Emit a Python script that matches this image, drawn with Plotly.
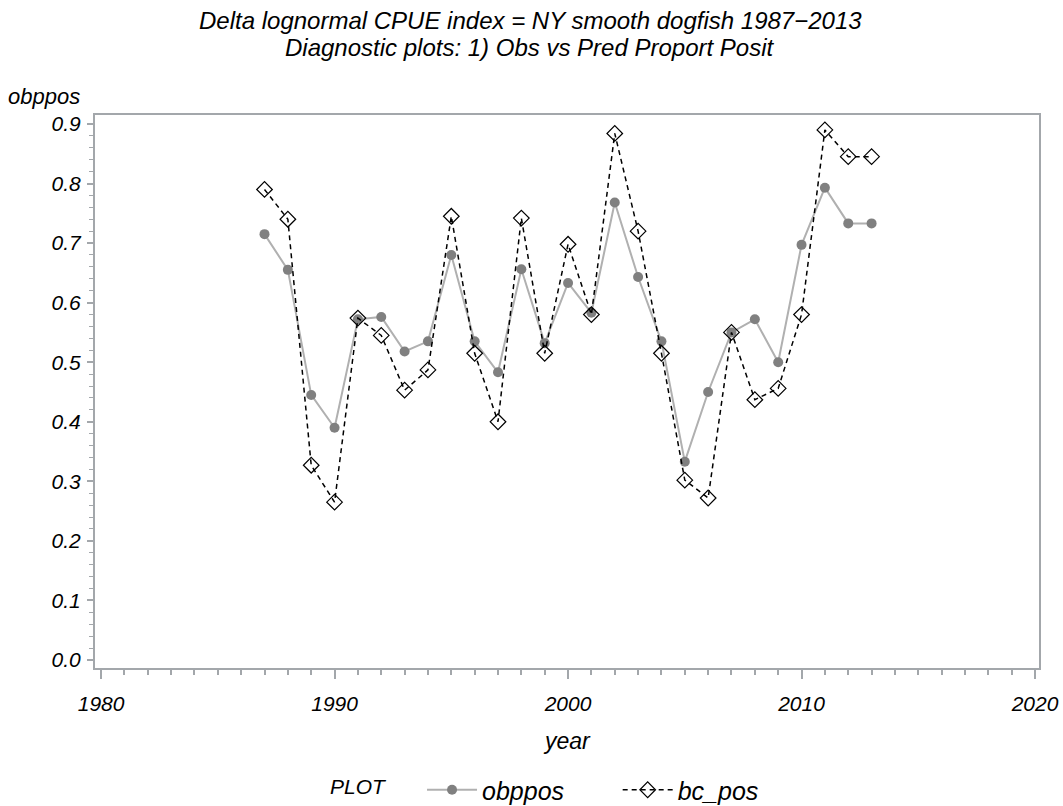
import plotly.graph_objects as go

years = list(range(1987, 2014))
obppos = [0.715, 0.655, 0.445, 0.390, 0.572, 0.576, 0.518, 0.535, 0.680, 0.535,
          0.483, 0.656, 0.532, 0.633, 0.583, 0.768, 0.643, 0.535, 0.333, 0.450,
          0.550, 0.572, 0.500, 0.697, 0.793, 0.733, 0.733]
bc_pos = [0.790, 0.740, 0.327, 0.265, 0.574, 0.545, 0.453, 0.487, 0.745, 0.515,
          0.400, 0.742, 0.515, 0.698, 0.580, 0.884, 0.720, 0.515, 0.302, 0.272,
          0.550, 0.437, 0.456, 0.580, 0.890, 0.845, 0.845]

title1 = "Delta lognormal CPUE index = NY smooth dogfish 1987\u22122013"
title2 = "Diagnostic plots: 1) Obs vs Pred Proport Posit"

FONT = "Liberation Sans"
frame = "#a3a7ab"
W, H = 1063, 806
ML, MR, MT, MB = 95, 24, 115, 138
plot_h = H - MT - MB
plot_w = W - ML - MR


def py(ypix):
    return (H - MB - ypix) / plot_h


def px(xpix):
    return (xpix - ML) / plot_w


fig = go.Figure()
fig.add_trace(go.Scatter(
    x=years, y=obppos, name="obppos" + "\u00a0" * 7, mode="lines+markers",
    line=dict(color="#b0b0b0", width=2),
    marker=dict(symbol="circle", size=10, color="#808080"),
))
fig.add_trace(go.Scatter(
    x=years, y=bc_pos, name="bc_pos", mode="lines+markers",
    line=dict(color="black", width=1.5, dash="5px,4px"),
    marker=dict(symbol="diamond-open", size=12, color="black", line=dict(width=1.2)),
))

fig.update_layout(
    width=W, height=H,
    paper_bgcolor="white", plot_bgcolor="white",
    margin=dict(l=ML, r=MR, t=MT, b=MB, autoexpand=False),
    font=dict(family=FONT, size=20, color="black", style="italic"),
    showlegend=True,
    legend=dict(orientation="h", x=px(328), xanchor="left",
                y=py(790), yanchor="middle",
                title=dict(text="PLOT" + "\u00a0" * 5, font=dict(size=21, style="italic")),
                font=dict(size=25, style="italic"),
                itemwidth=50, bgcolor="rgba(0,0,0,0)"),
)
for txt, ypix in [(title1, 20), (title2, 48)]:
    fig.add_annotation(text=txt, x=px(530), xref="paper", y=py(ypix), yref="paper",
                       xanchor="center", yanchor="middle", showarrow=False,
                       font=dict(family=FONT, size=24, style="italic"))
fig.add_annotation(text="obppos", x=px(6), xref="paper", xanchor="left",
                   y=py(97), yref="paper", yanchor="middle",
                   showarrow=False, font=dict(family=FONT, size=22, style="italic"))
fig.add_annotation(text="year", x=px(567), xref="paper", xanchor="center",
                   y=py(741), yref="paper", yanchor="middle",
                   showarrow=False, font=dict(family=FONT, size=23, style="italic"))

fig.update_xaxes(
    range=[1979.74, 2020.17], tickvals=[1980, 1990, 2000, 2010, 2020],
    showgrid=False, zeroline=False,
    showline=True, linecolor=frame, linewidth=2, mirror=True,
    ticks="outside", ticklen=9, tickwidth=2, tickcolor=frame,
    minor=dict(dtick=1, tick0=1980, ticks="outside", ticklen=5, tickwidth=1.5, tickcolor=frame),
    tickfont=dict(family=FONT, size=21, style="italic"),
    ticklabelstandoff=7,
)
fig.update_yaxes(
    range=[-0.0134, 0.915], tickvals=[0, 0.1, 0.2, 0.3, 0.4, 0.5, 0.6, 0.7, 0.8, 0.9],
    tickformat=".1f",
    showgrid=False, zeroline=False,
    showline=True, linecolor=frame, linewidth=2, mirror=True,
    ticks="outside", ticklen=6, tickwidth=1.5, tickcolor=frame,
    minor=dict(dtick=0.02, tick0=0, ticks="outside", ticklen=4, tickwidth=1, tickcolor=frame),
    tickfont=dict(family=FONT, size=21, style="italic"),
    ticklabelstandoff=2,
)

fig.write_html("out.html")
